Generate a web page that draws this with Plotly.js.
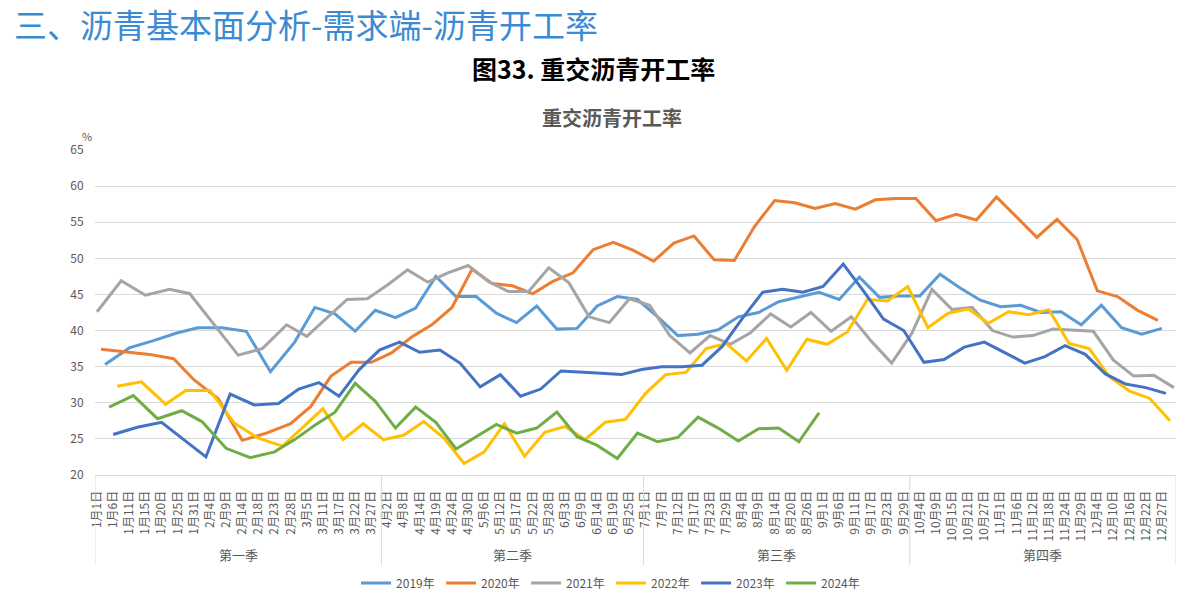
<!DOCTYPE html>
<html><head><meta charset="utf-8">
<script src="https://cdn.plot.ly/plotly-3.0.1.min.js"></script>
<style>html,body{margin:0;padding:0;background:#fff;}#chart{width:1191px;height:603px;}</style>
</head><body><div id="chart"></div>
<script>
// ---- data ----
const seriesNames = ['2019年','2020年','2021年','2022年','2023年','2024年'];
const seriesColors = ['#5B9BD5','#ED7D31','#A5A5A5','#FFC000','#4472C4','#70AD47'];
// weekly report dates: first report of each year, one report per week
const firstReport = ['2019-01-04','2020-01-03','2021-01-01','2022-01-07','2023-01-06','2024-01-05'];
const missingReports = ['2023-01-27'];

const rate2019 = [35.3,37.6,38.6,39.7,40.4,40.4,39.9,34.3,38.4,43.2,
  42.3,39.9,42.8,41.8,43.1,47.5,44.7,44.7,42.4,41.1,
  43.4,40.2,40.3,43.4,44.7,44.3,41.9,39.3,39.5,40.1,
  41.9,42.5,44.0,44.7,45.3,44.3,47.4,44.6,44.8,44.8,
  47.8,45.9,44.2,43.3,43.5,42.5,42.6,40.8,43.5,40.4,
  39.5,40.3];
const rate2020 = [37.4,37.1,36.7,36.1,33.2,30.6,24.8,25.8,27.1,29.5,
  33.7,35.6,35.6,36.9,39.1,40.8,43.2,48.5,46.5,46.2,
  45.1,46.8,48.0,51.2,52.2,51.1,49.6,52.1,53.1,49.8,
  49.7,54.4,58.0,57.7,56.9,57.6,56.8,58.1,58.3,58.3,
  55.2,56.1,55.3,58.5,55.7,52.9,55.4,52.6,45.5,44.7,
  42.8,41.4];
const rate2021 = [42.6,46.9,44.9,45.7,45.1,40.9,36.6,37.5,40.8,39.2,
  41.8,44.3,44.4,46.3,48.4,46.7,48.0,49.0,46.8,45.4,
  45.4,48.7,46.6,41.9,41.1,44.4,43.5,39.3,36.9,39.3,
  38.1,39.7,42.3,40.5,42.5,39.9,41.9,38.5,35.5,39.6,
  45.7,42.9,43.2,40.0,39.1,39.3,40.2,40.1,39.9,35.9,
  33.7,33.8,32.1];
const rate2022 = [32.3,32.9,29.8,31.7,31.7,27.2,25.1,24.0,26.6,29.2,
  24.9,27.1,24.9,25.5,27.4,25.1,21.6,23.2,27.1,22.6,
  25.9,26.7,24.9,27.3,27.7,31.3,33.9,34.2,37.5,38.2,
  35.8,38.9,34.5,38.8,38.1,39.8,44.3,44.1,46.1,40.4,
  42.4,43.0,41.0,42.6,42.2,42.9,38.2,37.5,33.6,31.6,
  30.6,27.5];
const rate2023 = [25.6,26.6,27.3,22.5,31.2,29.7,29.9,31.9,32.8,30.9,
  34.6,37.3,38.4,37.0,37.3,35.5,32.2,33.9,30.9,31.9,
  34.4,34.3,34.1,33.9,34.6,35.0,35.0,35.2,37.8,41.7,
  45.3,45.7,45.3,46.1,49.2,45.5,41.6,40.0,35.6,36.0,
  37.7,38.4,37.0,35.5,36.4,37.9,36.7,34.0,32.6,32.1,
  31.3];
const rate2024 = [29.4,31.0,27.8,28.9,27.4,23.7,22.4,23.2,24.9,26.9,
  28.7,32.7,30.2,26.5,29.4,27.3,23.6,25.3,27.0,25.8,
  26.5,28.7,25.3,24.1,22.3,25.8,24.6,25.2,28.0,26.5,
  24.7,26.4,26.5,24.6,28.6];
const seriesValues = [rate2019,rate2020,rate2021,rate2022,rate2023,rate2024];

const tickLabels = ['1月1日','1月6日','1月11日','1月15日','1月20日','1月25日','1月31日','2月4日','2月9日','2月14日','2月18日','2月23日','2月28日','3月5日','3月11日','3月17日','3月22日','3月27日',
 '4月2日','4月8日','4月14日','4月19日','4月24日','4月30日','5月6日','5月12日','5月17日','5月22日','5月28日','6月3日','6月9日','6月14日','6月19日','6月25日',
 '7月1日','7月7日','7月12日','7月17日','7月23日','7月29日','8月4日','8月9日','8月14日','8月20日','8月26日','9月1日','9月6日','9月11日','9月17日','9月23日','9月29日',
 '10月4日','10月9日','10月15日','10月21日','10月27日','11月1日','11月6日','11月12日','11月18日','11月24日','11月29日','12月4日','12月10日','12月16日','12月22日','12月27日'];
const quarterNames = ['第一季','第二季','第三季','第四季'];

// ---- build report dates (month-day keys) ----
function reportKeys(start, n){
  const p = start.split('-').map(Number);
  const keys = []; let k = 0;
  while (keys.length < n){
    const d = new Date(Date.UTC(p[0], p[1]-1, p[2] + 7*k)); k++;
    const iso = d.toISOString().slice(0,10);
    if (missingReports.indexOf(iso) >= 0) continue;
    keys.push((d.getUTCMonth()+1)*100 + d.getUTCDate());
  }
  return keys;
}
const seriesKeys = seriesValues.map((v,i)=>reportKeys(firstReport[i], v.length));
// category axis = all report dates (month-day) of all years, in calendar order
const allKeys = Array.from(new Set([].concat(...seriesKeys))).sort((a,b)=>a-b);
const catIndex = {}; allKeys.forEach((k,i)=>catIndex[k]=i);
const N = allKeys.length;
function labelKey(s){ const m = s.match(/(\d+)月(\d+)日/); return (+m[1])*100 + (+m[2]); }
const tickvals = tickLabels.map(s=>catIndex[labelKey(s)]);

const FONT = '"Noto Sans CJK SC","Microsoft YaHei",sans-serif';
const traces = seriesValues.map((v,i)=>({
  type:'scatter', mode:'lines', name:seriesNames[i],
  x: seriesKeys[i].map(k=>catIndex[k]), y: v,
  line:{color:seriesColors[i], width:3}, hoverinfo:'skip'
}));

// quarter boundaries
const qStart = [0];
[4,7,10].forEach(m=>{ qStart.push(allKeys.findIndex(k=>k>=m*100)); });
const qEdges = qStart.concat([N]);
const shapes = qEdges.map(b=>({type:'line', xref:'x', yref:'paper', x0:b-0.5, x1:b-0.5, y0:0, y1:-0.277,
  line:{color:'#d9d9d9', width:1}}));
const annotations = quarterNames.map((q,i)=>({xref:'x', yref:'paper', x:(qEdges[i]+qEdges[i+1]-1)/2, y:-0.246,
  text:q, showarrow:false, font:{size:13,color:'#595959',family:FONT}, xanchor:'center', yanchor:'middle'}));
annotations.push(
  {xref:'paper',yref:'paper',x:-0.0768,y:1.3862,xanchor:'left',yanchor:'middle',showarrow:false,
   text:'三、沥青基本面分析-需求端-沥青开工率',font:{size:33,color:'#3a8bd3',family:FONT}},
  {xref:'paper',yref:'paper',x:0.4607,y:1.2538,xanchor:'center',yanchor:'middle',showarrow:false,
   text:'<b>图33. 重交沥青开工率</b>',font:{size:25,color:'#000000',family:FONT}},
  {xref:'paper',yref:'paper',x:0.4783,y:1.1,xanchor:'center',yanchor:'middle',showarrow:false,
   text:'<b>重交沥青开工率</b>',font:{size:20,color:'#595959',family:FONT}},
  {xref:'paper',yref:'paper',x:-0.0074,y:1.043,xanchor:'center',yanchor:'middle',showarrow:false,
   text:'%',font:{size:11,color:'#595959',family:FONT}}
);

const layout = {
  width:1191, height:603,
  margin:{l:95,r:15,t:150,b:128,pad:0,autoexpand:false},
  paper_bgcolor:'#ffffff', plot_bgcolor:'#ffffff',
  font:{family:FONT,color:'#595959',size:12},
  showlegend:true,
  legend:{orientation:'h', x:0.4774, xanchor:'center', y:-0.332, yanchor:'middle',
    font:{size:12,color:'#595959',family:FONT}, entrywidth:40, itemwidth:30},
  xaxis:{type:'linear', range:[-0.5,N-0.5], tickmode:'array', tickvals:tickvals, ticktext:tickLabels,
    tickangle:-90, showgrid:false, zeroline:false, showline:true, linecolor:'#d9d9d9', linewidth:1,
    ticks:'outside', ticklen:10, tickcolor:'rgba(0,0,0,0)', tickfont:{size:12,color:'#595959',family:FONT}, fixedrange:true},
  yaxis:{range:[20,65], tick0:20, dtick:5, showgrid:true, gridcolor:'#d9d9d9', gridwidth:1, zeroline:false,
    showline:false, ticks:'outside', ticklen:8, tickcolor:'rgba(0,0,0,0)', tickfont:{size:12,color:'#595959',family:FONT}, fixedrange:true},
  shapes:shapes, annotations:annotations, hovermode:false
};
Plotly.newPlot('chart', traces, layout, {displayModeBar:false, staticPlot:true});
</script></body></html>
